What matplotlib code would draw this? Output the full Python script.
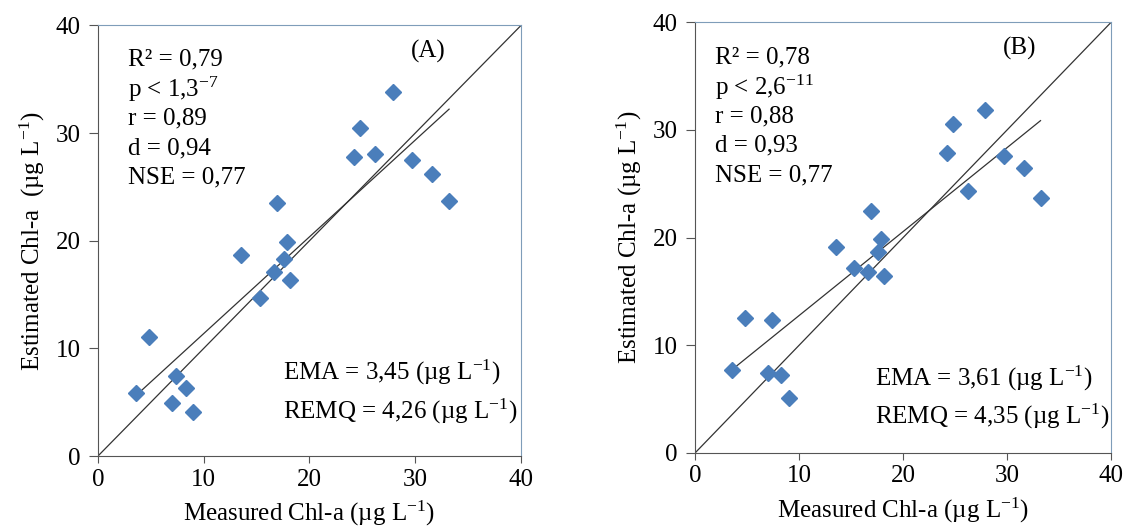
import numpy as np
import matplotlib.pyplot as plt

plt.rcParams['font.family'] = ['Liberation Serif', 'DejaVu Serif']
plt.rcParams['mathtext.fontset'] = 'custom'
plt.rcParams['mathtext.rm'] = 'Liberation Serif'
plt.rcParams['mathtext.it'] = 'Liberation Serif'

# measured chl-a (same for both panels)
measured = [3.6, 4.8, 7.4, 7.0, 8.3, 9.0, 13.5, 15.3, 16.6, 16.9,
            17.6, 17.9, 18.2, 24.2, 24.8, 26.2, 27.9, 29.7, 31.6, 33.2]
est_a = [5.85, 11.1, 7.4, 4.9, 6.3, 4.1, 18.65, 14.65, 17.1, 23.5,
         18.3, 19.9, 16.35, 27.75, 30.5, 28.1, 33.85, 27.5, 26.2, 23.65]
est_b = [7.7, 12.5, 12.3, 7.4, 7.25, 5.1, 19.1, 17.2, 16.8, 22.45,
         18.7, 19.85, 16.45, 27.85, 30.55, 24.3, 31.8, 27.6, 26.5, 23.65]

stats_a = ['R² = 0,79', 'p < 1,3$^{-7}$', 'r = 0,89', 'd = 0,94', 'NSE = 0,77']
stats_b = ['R² = 0,78', 'p < 2,6$^{-11}$', 'r = 0,88', 'd = 0,93', 'NSE = 0,77']
err_a = ['EMA = 3,45 (µg L$^{-1}$)', 'REMQ = 4,26 (µg L$^{-1}$)']
err_b = ['EMA = 3,61 (µg L$^{-1}$)', 'REMQ = 4,35 (µg L$^{-1}$)']
ticks = [0, 10, 20, 30, 40]

px = 1 / 100
fig = plt.figure(figsize=(1125 * px, 530 * px), dpi=100)
ax_a = fig.add_axes([0.0871, 0.1396, 0.376, 0.8124])
ax_b = fig.add_axes([0.6178, 0.1453, 0.370, 0.813])

blue = '#4A7EBB'
edge = '#7F9DB9'
fs = 18


def panel(ax, est, stats, errs, tag, sx, sy, ex, ey1, ey2, ylab):
    x = np.array(measured)
    y = np.array(est)
    ax.plot([0, 40], [0, 40], color='#333333', lw=0.9, zorder=1)
    k, b = np.polyfit(x, y, 1)
    xs = np.array([x.min(), x.max()])
    ax.plot(xs, k * xs + b, color='#333333', lw=0.9, zorder=1)
    ax.plot(x, y, 'D', color=blue, ms=8.5, mec=blue, zorder=3)
    ax.set_xlim(0, 40)
    ax.set_ylim(0, 40)
    ax.set_xticks(ticks)
    ax.set_yticks(ticks)
    ax.tick_params(labelsize=fs, color='#555555')
    ax.tick_params(axis='x', length=5, pad=4)
    ax.tick_params(axis='y', length=6.5, pad=6)
    for s in ['top', 'right']:
        ax.spines[s].set_color(edge)
    for s in ['left', 'bottom']:
        ax.spines[s].set_color('#555555')
    for i, s in enumerate(stats):
        ax.text(sx, sy - i * 2.73, s, fontsize=fs, va='center', ha='left')
    ax.text(31.2, 37.6, tag, fontsize=fs, va='center', ha='center')
    ax.text(ex, ey1, errs[0], fontsize=fs, va='center', ha='left')
    ax.text(ex, ey2, errs[1], fontsize=fs, va='center', ha='left')
    ax.set_xlabel('Measured Chl-a (µg L$^{-1}$)', fontsize=fs, labelpad=6)
    ax.set_ylabel(ylab, fontsize=fs, labelpad=6)


panel(ax_a, est_a, stats_a, err_a, '(A)', 2.8, 36.8, 17.5, 7.75, 4.1,
      'Estimated Chl-a  (µg L$^{-1}$)')
panel(ax_b, est_b, stats_b, err_b, '(B)', 1.9, 36.7, 17.3, 6.95, 3.35,
      'Estimated Chl-a (µg L$^{-1}$)')

fig.savefig('out.png', dpi=100)
